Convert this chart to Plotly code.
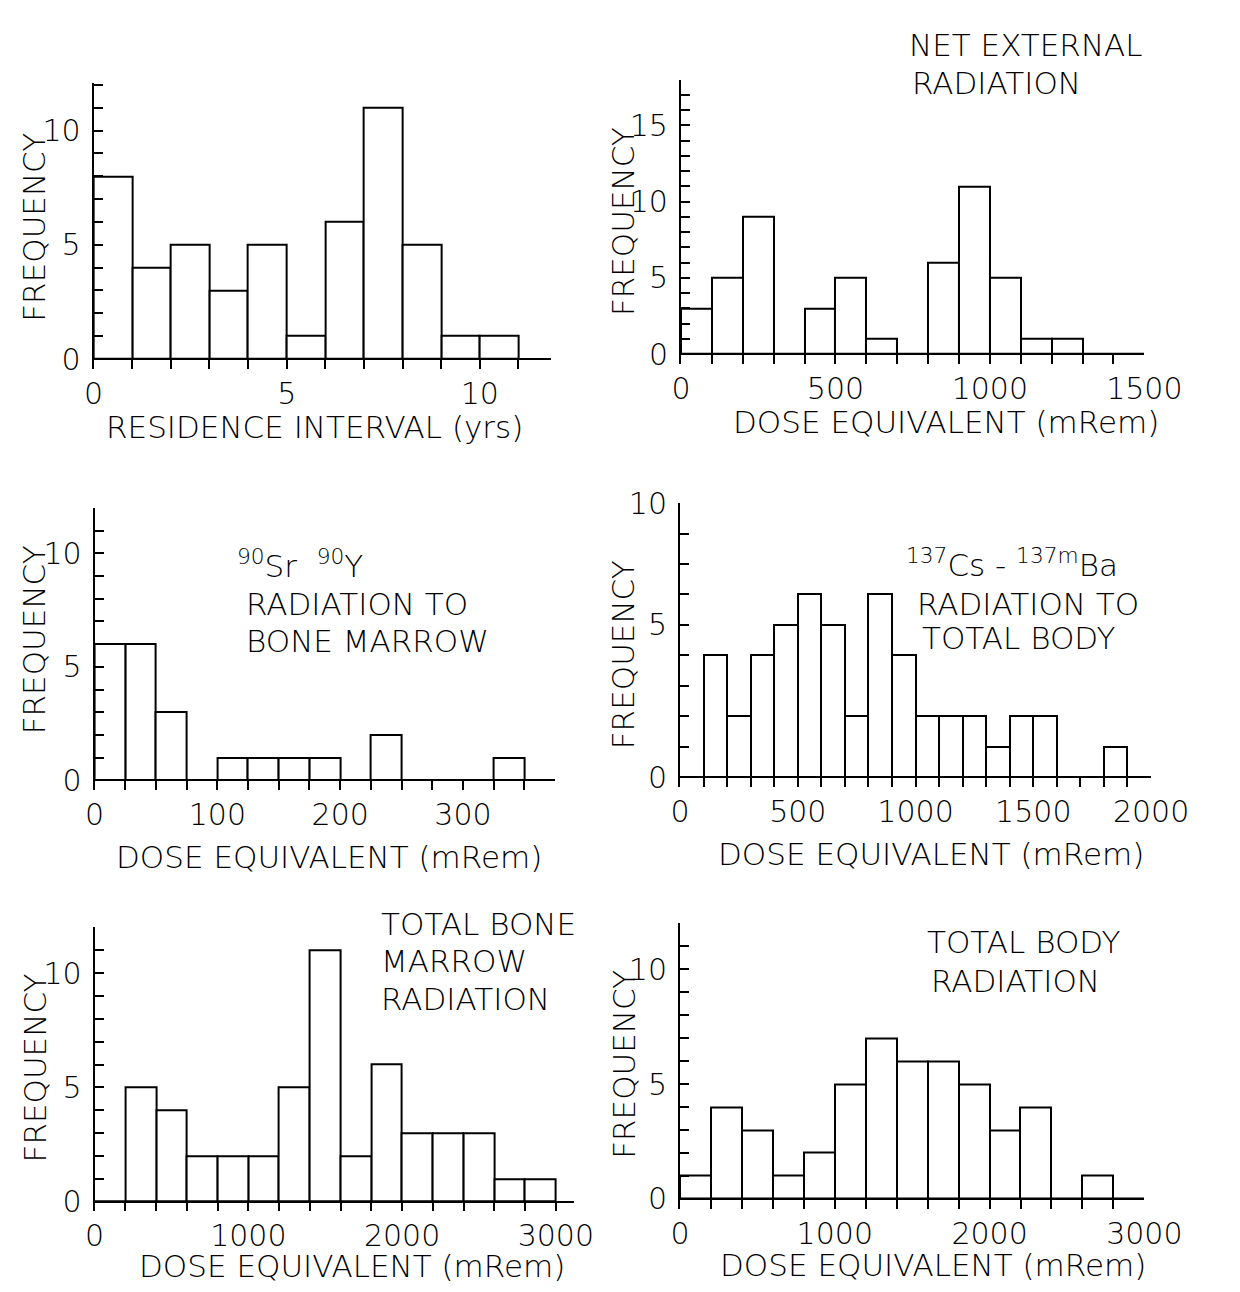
import plotly.graph_objects as go

W, H = 1240, 1292

# ---------------- data (bin left edges and counts) ----------------
res_edges = [0, 1, 2, 3, 4, 5, 6, 7, 8, 9, 10]
res_counts = [8, 4, 5, 3, 5, 1, 6, 11, 5, 1, 1]

ext_edges = [0, 100, 200, 300, 400, 500, 600, 700, 800, 900, 1000, 1100, 1200, 1300, 1400]
ext_counts = [3, 5, 9, 0, 3, 5, 1, 0, 6, 11, 5, 1, 1, 0, 0]

sr_edges = [0, 25, 50, 75, 100, 125, 150, 175, 200, 225, 250, 275, 300, 325, 350]
sr_counts = [6, 6, 3, 0, 1, 1, 1, 1, 0, 2, 0, 0, 0, 1, 0]

cs_edges = [0, 100, 200, 300, 400, 500, 600, 700, 800, 900, 1000,
            1100, 1200, 1300, 1400, 1500, 1600, 1700, 1800, 1900]
cs_counts = [0, 4, 2, 4, 5, 6, 5, 2, 6, 4, 2, 2, 2, 1, 2, 2, 0, 0, 1, 0]

bm_edges = [0, 200, 400, 600, 800, 1000, 1200, 1400, 1600, 1800, 2000, 2200, 2400, 2600, 2800]
bm_counts = [0, 5, 4, 2, 2, 2, 5, 11, 2, 6, 3, 3, 3, 1, 1]

tb_edges = [0, 200, 400, 600, 800, 1000, 1200, 1400, 1600, 1800, 2000, 2200, 2400, 2600, 2800]
tb_counts = [1, 4, 3, 1, 2, 5, 7, 6, 6, 5, 3, 4, 0, 1, 0]

x_titles = ["RESIDENCE INTERVAL (yrs)", "DOSE EQUIVALENT (mRem)", "DOSE EQUIVALENT (mRem)",
            "DOSE EQUIVALENT (mRem)", "DOSE EQUIVALENT (mRem)", "DOSE EQUIVALENT (mRem)"]
y_title = "FREQUENCY"

# ---------------- layout geometry (pixels) ----------------
FAMILY = "DejaVu Sans, Lato, sans-serif"
FONT = dict(family=FAMILY, size=31, color="black", weight=200)
XTFONT = dict(family=FAMILY, size=31, color="black", weight=200)
TICKFONT = dict(family=FAMILY, size=30, color="black", weight=200)
EXT = 10  # px the y axis extends below the baseline

panels = [
    dict(e=res_edges, c=res_counts, bw=1, x0=87, x1=563, top=66, base=348, xmax=11.85, ymax=12.1, dmaj=5, dmin=1),
    dict(e=ext_edges, c=ext_counts, bw=100, x0=698, x1=1180, top=63, base=343, xmax=1500, ymax=18.0, dmaj=500, dmin=100),
    dict(e=sr_edges, c=sr_counts, bw=25, x0=88, x1=567, top=500, base=778, xmax=375, ymax=12.0, dmaj=100, dmin=25),
    dict(e=cs_edges, c=cs_counts, bw=100, x0=697, x1=1187, top=495, base=775, xmax=2000, ymax=9.0, dmaj=500, dmin=100),
    dict(e=bm_edges, c=bm_counts, bw=200, x0=88, x1=587, top=928, base=1208, xmax=3120, ymax=12.0, dmaj=1000, dmin=200),
    dict(e=tb_edges, c=tb_counts, bw=200, x0=697, x1=1180, top=924, base=1205, xmax=3000, ymax=12.0, dmaj=1000, dmin=200),
]
xtitle_pos = [(317, 417), (974, 412), (332, 856), (958, 853), (356, 1274), (960, 1273)]
freq_pos = [(25, 214), (638, 208), (25, 635), (638, 650), (26, 1071), (638, 1068)]

def px(x):
    return x / W

def py(y):
    return 1 - y / H

fig = go.Figure()
layout = dict(
    width=W, height=H, margin=dict(l=0, r=0, t=0, b=0),
    paper_bgcolor="white", plot_bgcolor="white", showlegend=False,
    font=FONT, bargap=0,
)
annotations = []
tick_style = dict(tickwidth=2, tickcolor="black")

for i, p in enumerate(panels, start=1):
    xa = "x" if i == 1 else f"x{i}"
    ya = "y" if i == 1 else f"y{i}"
    fig.add_trace(go.Bar(
        x=p["e"], y=p["c"], width=p["bw"], offset=0,
        marker=dict(color="white", line=dict(color="black", width=2)),
        xaxis=xa, yaxis=ya, hoverinfo="skip",
    ))
    span = p["base"] - p["top"]
    ybot = -EXT * p["ymax"] / span
    xkey = "xaxis" if i == 1 else f"xaxis{i}"
    ykey = "yaxis" if i == 1 else f"yaxis{i}"
    xminor = dict(ticks="inside", ticklen=EXT, tick0=0, dtick=p["dmin"], showgrid=False, **tick_style)
    if i == 1:
        # axis of the first panel ends with a tick just short of 12
        xminor = dict(ticks="inside", ticklen=EXT, tickmode="array",
                      tickvals=[1, 2, 3, 4, 6, 7, 8, 9, 11, p["xmax"]], showgrid=False, **tick_style)
    layout[xkey] = dict(
        domain=[px(p["x0"]), px(p["x1"])], range=[0, p["xmax"]], anchor=ya,
        showline=False, showgrid=False, zeroline=False,
        ticks="inside", ticklen=EXT, tick0=0, dtick=p["dmaj"], ticklabelstandoff=4,
        minor=xminor, tickfont=TICKFONT, fixedrange=True, **tick_style,
    )
    ydict = dict(
        domain=[py(p["base"] + EXT), py(p["top"])], range=[ybot, p["ymax"]], anchor=xa,
        showline=True, linecolor="black", linewidth=2, showgrid=False,
        zeroline=True, zerolinecolor="black", zerolinewidth=2,
        ticks="inside", ticklen=9, tick0=0, dtick=5, ticklabelstandoff=5,
        minor=dict(ticks="inside", ticklen=9, tick0=0, dtick=1, showgrid=False, **tick_style),
        tickfont=TICKFONT, fixedrange=True, **tick_style,
    )
    if i == 4:
        ydict.update(tickmode="array", tickvals=[0, 5, 9], ticktext=["0", "5", "10"])
        ydict["minor"] = dict(ticks="inside", ticklen=9, tickmode="array",
                              tickvals=[1, 2, 3, 4, 6, 7, 8], showgrid=False, **tick_style)
    layout[ykey] = ydict

    tx, ty = xtitle_pos[i - 1]
    annotations.append(dict(
        text=x_titles[i - 1], xref="paper", yref="paper",
        x=px(tx), y=py(ty), xanchor="center", yanchor="middle", showarrow=False, font=XTFONT,
    ))

for (fx, fy) in freq_pos:
    annotations.append(dict(
        text=y_title, xref="paper", yref="paper", x=px(fx), y=py(fy),
        xanchor="center", yanchor="middle", textangle=-90, showarrow=False, font=FONT,
    ))

labels = [
    ("NET EXTERNAL", 933, 28),
    ("RADIATION", 936, 66),
    ("<sup>90</sup>Sr  <sup>90</sup>Y", 234, 557),
    ("RADIATION TO", 243, 598),
    ("BONE MARROW", 243, 636),
    ("<sup>137</sup>Cs - <sup>137m</sup>Ba", 930, 556),
    ("RADIATION TO", 941, 598),
    ("TOTAL BODY", 947, 633),
    ("TOTAL BONE", 384, 925),
    ("MARROW", 384, 962),
    ("RADIATION", 384, 1001),
    ("TOTAL BODY", 952, 943),
    ("RADIATION", 956, 983),
]
for (t, lx, ly) in labels:
    annotations.append(dict(
        text=t, xref="paper", yref="paper", x=px(lx), y=py(ly),
        xanchor="left", yanchor="middle", showarrow=False, font=FONT,
    ))

layout["annotations"] = annotations
fig.update_layout(**layout)
fig.write_html("out.html", config={"displayModeBar": False})

with open("out.html", "r", encoding="utf-8") as f:
    html = f.read()
html = html.replace("<body>", '<body style="margin:0;padding:0;overflow:hidden">', 1)
with open("out.html", "w", encoding="utf-8") as f:
    f.write(html)
